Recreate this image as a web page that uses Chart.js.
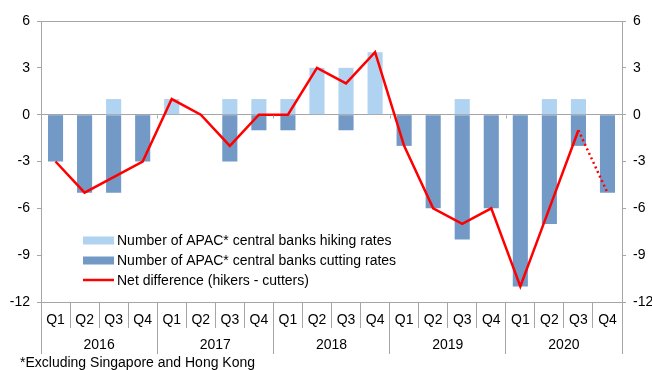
<!DOCTYPE html>
<html><head><meta charset="utf-8">
<script src="https://cdn.jsdelivr.net/npm/chart.js@4"></script>
<style>
html,body{margin:0;padding:0;background:#fff;}
#wrap{position:relative;width:652px;height:370px;overflow:hidden;}
#note{position:absolute;left:20px;top:354px;font:14px 'Liberation Sans',Arial,sans-serif;color:#000;line-height:16px;white-space:nowrap;}
</style></head><body>
<div id="wrap"><canvas id="c" width="652" height="370"></canvas><div id="note">*Excluding Singapore and Hong Kong</div></div>
<script>
const quarters = ['Q1','Q2','Q3','Q4','Q1','Q2','Q3','Q4','Q1','Q2','Q3','Q4','Q1','Q2','Q3','Q4','Q1','Q2','Q3','Q4'];
const years = ['2016','2017','2018','2019','2020'];
const hiking = [0,0,1,0, 1,0,1,1, 1,3,3,4, 0,0,1,0, 0,1,1,0];
const cutting = [-3,-5,-5,-3, 0,0,-3,-1, -1,0,-1,0, -2,-6,-8,-6, -11,-7,-2,-5];
const net = [-3,-5,-4,-3, 1,0,-2,0, 0,3,2,4, -2,-6,-7,-6, -11,-6,-1,-5];
const seriesNames = ['Number of APAC* central banks hiking rates','Number of APAC* central banks cutting rates','Net difference (hikers - cutters)'];

const grey = '#a6a6a6';
const FONT = "'Liberation Sans', Arial, sans-serif";
Chart.defaults.font.family = FONT;
Chart.defaults.font.size = 14;
Chart.defaults.color = '#000';

const extras = {
  id: 'extras',
  afterDatasetsDraw(chart) {
    const {ctx, scales: {x, y}} = chart;
    ctx.save();
    ctx.strokeStyle = grey; ctx.lineWidth = 1;
    const y0 = Math.round(y.getPixelForValue(0)) + 0.5;
    for (let i = 4; i < quarters.length; i += 4) {
      const px = Math.round((x.getPixelForValue(i - 1) + x.getPixelForValue(i)) / 2) + 0.5;
      ctx.beginPath(); ctx.moveTo(px, y0); ctx.lineTo(px, y0 + 3); ctx.stroke();
    }
    // legend
    const ds = chart.data.datasets;
    const lx = 83, lw = 31, tx = 117;
    const rows = [240.5, 260.5, 280];
    ctx.font = '14px ' + FONT;
    ctx.textBaseline = 'middle';
    const order = [1, 2, 0];
    order.forEach((di, k) => {
      const d = ds[di]; const cy = rows[k];
      if (d.type === 'line') {
        ctx.strokeStyle = d.borderColor; ctx.lineWidth = 2.5;
        ctx.beginPath(); ctx.moveTo(lx, cy); ctx.lineTo(lx + lw, cy); ctx.stroke();
      } else {
        ctx.fillStyle = d.backgroundColor;
        ctx.fillRect(lx, cy - 4, lw, 8);
      }
      ctx.fillStyle = '#000';
      ctx.fillText(d.label, tx, cy + 1);
    });
    ctx.restore();
  }
};

new Chart(document.getElementById('c'), {
  type: 'bar',
  data: {
    labels: quarters,
    datasets: [
      { type: 'line', label: seriesNames[2], data: net, borderColor: '#ff0000', backgroundColor: '#ff0000',
        borderWidth: 2.5, pointRadius: 0, tension: 0, order: 0,
        segment: { borderDash: c => c.p1DataIndex === net.length - 1 ? [2, 3] : undefined } },
      { label: seriesNames[0], data: hiking, backgroundColor: '#afd3f0', order: 1, barPercentage: 0.52, categoryPercentage: 1 },
      { label: seriesNames[1], data: cutting, backgroundColor: '#7399c6', order: 2, barPercentage: 0.52, categoryPercentage: 1 }
    ]
  },
  options: {
    responsive: false, animation: false,
    layout: { padding: { top: 21, bottom: 16, left: 0, right: 0 } },
    plugins: { legend: { display: false }, tooltip: { enabled: false } },
    scales: {
      x: { stacked: true, position: 'bottom', offset: true,
        grid: { offset: true, drawOnChartArea: false, drawTicks: true, tickLength: 26, color: grey },
        border: { display: true, color: grey },
        ticks: { padding: -16, maxRotation: 0, autoSkip: false },
        afterFit: s => { s.height = 26; } },
      x2: { type: 'category', labels: years, position: 'bottom', offset: true,
        grid: { offset: true, drawOnChartArea: false, tickLength: 26, color: grey },
        border: { display: false },
        ticks: { padding: -17, maxRotation: 0, autoSkip: false },
        afterFit: s => { s.height = 26; } },
      y: { min: -12, max: 6, position: 'left',
        ticks: { stepSize: 3, padding: 7 },
        grid: { color: c => (c.tick && (c.tick.value === 0 || c.tick.value === 6)) ? grey : 'rgba(0,0,0,0)', tickColor: grey, tickLength: 4 },
        border: { color: grey },
        afterFit: s => { s.width = 41; } },
      y2: { min: -12, max: 6, position: 'right',
        ticks: { stepSize: 3, padding: 7 },
        grid: { drawOnChartArea: false, color: grey, tickColor: grey, tickLength: 4 },
        border: { color: grey },
        afterFit: s => { s.width = 30; } }
    }
  },
  plugins: [extras]
});
</script>
</body></html>
